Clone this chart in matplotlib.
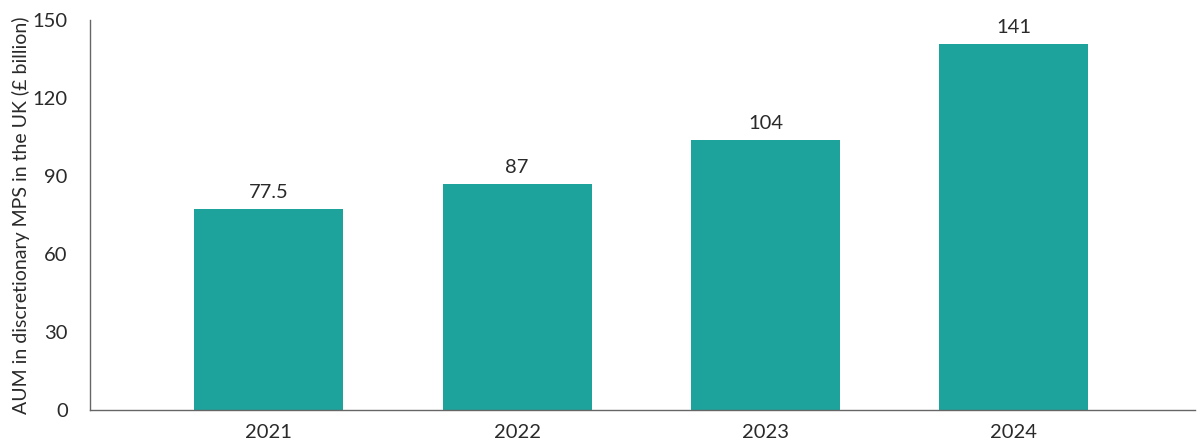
import matplotlib.pyplot as plt

years = ["2021", "2022", "2023", "2024"]
aum = [77.5, 87, 104, 141]
labels = ["77.5", "87", "104", "141"]
yticks = [0, 30, 60, 90, 120, 150]

plt.rcParams['font.family'] = ['Lato', 'DejaVu Sans']

fig = plt.figure(figsize=(12, 4.48), dpi=100)
ax = fig.add_axes([0.075, 0.085, 0.921, 0.87])

x = range(len(years))
bars = ax.bar(x, aum, width=0.6, color="#1ea39c")

for b, lab in zip(bars, labels):
    ax.text(b.get_x() + b.get_width() / 2, b.get_height() + 3, lab,
            ha="center", va="bottom", fontsize=14.5, color="#2a2a2a")

ax.set_xlim(-0.72, 3.73)
ax.set_ylim(0, 150)
ax.set_xticks(list(x))
ax.set_xticklabels(years)
ax.set_yticks(yticks)
ax.tick_params(length=0, labelsize=14.5, colors="#2a2a2a", pad=10)
ax.tick_params(axis="y", pad=16)
ax.set_ylabel("AUM in discretionary MPS in the UK (£ billion)", fontsize=14, color="#2a2a2a", labelpad=2)

for s in ["top", "right"]:
    ax.spines[s].set_visible(False)
for s in ["left", "bottom"]:
    ax.spines[s].set_color("#666666")
    ax.spines[s].set_linewidth(1)

fig.savefig("out.png")
